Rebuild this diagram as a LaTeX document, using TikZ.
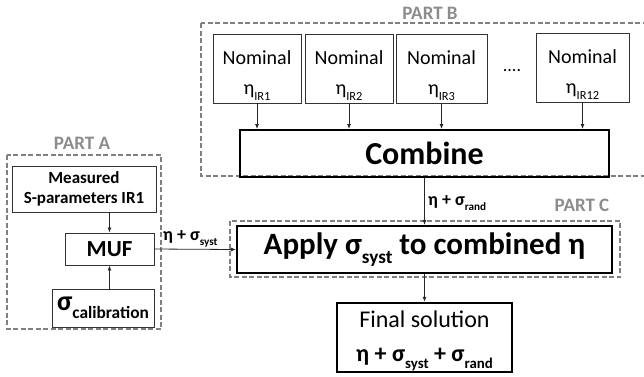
\documentclass[tikz,border=0pt]{standalone}
\usepackage{fontspec}
\setmainfont{Carlito}
\usetikzlibrary{arrows.meta}
\newcommand\fs[2]{\fontsize{#1}{#2}\selectfont}
\newcommand\lowsub[1]{\raisebox{-0.28em}{\fontsize{0.62em}{0.62em}\selectfont #1}}
% lower a stack of lines without changing the space it claims
\newcommand\dropstack[2]{\raisebox{-#1}[\height][\depth]{\begin{tabular}{@{}c@{}}#2\end{tabular}}}
\begin{document}
\begin{tikzpicture}[x=1pt,y=-1pt,
  thinbox/.style={draw=black!80,line width=0.9pt,inner sep=0pt,align=center},
  thickbox/.style={draw=black,line width=2pt,inner sep=0pt,align=center},
  partbox/.style={draw=black!50,line width=1.8pt,dash pattern=on 5pt off 2.5pt},
  partlabel/.style={text=black!45,font=\fs{19}{19}\bfseries},
  conn/.style={draw=black!85,line width=0.8pt,-{Latex[length=5pt,width=4pt]}},
  lbl/.style={font=\fs{18}{18}\bfseries,inner sep=0pt}]
\useasboundingbox (0,0) rectangle (644,376);

% dashed group frames
\draw[partbox] (201,23) rectangle (650,176);
\draw[partbox] (7,155) rectangle (161,329);
\draw[partbox] (230,221) rectangle (620,277);
\node[partlabel] (pb) at (430,13) {PART B};
\node[partlabel] (pa) at (82,143) {PART A};
\node[partlabel] (pc) at (582,205) {PART C};

% part B
\tikzset{nomtext/.style={font=\fs{20}{30}}}
\node[thinbox,nomtext,minimum width=88,minimum height=69] (n1) at (257,68.5)
  {\dropstack{5pt}{Nominal\\η\lowsub{IR1}}};
\node[thinbox,nomtext,minimum width=88,minimum height=69] (n2) at (349,68.5)
  {\dropstack{5pt}{Nominal\\η\lowsub{IR2}}};
\node[thinbox,nomtext,minimum width=91,minimum height=69] (n3) at (441.5,68.5)
  {\dropstack{5pt}{Nominal\\η\lowsub{IR3}}};
\node[thinbox,nomtext,minimum width=93,minimum height=69] (n4) at (582.5,67.5)
  {\dropstack{5pt}{Nominal\\η\lowsub{IR12}}};
\node[font=\fs{18}{18}] (dots) at (512,71) {....};
\node[thickbox,minimum width=369,minimum height=47,font=\fs{32}{32}\bfseries]
  (comb) at (424.5,153.5) {Combine};

% part C
\node[thickbox,minimum width=375,minimum height=47,font=\fs{31}{31}\bfseries]
  (apply) at (424.5,249.5) {Apply σ\lowsub{syst} to combined η};

% final
\node[draw=black,line width=2.5pt,inner sep=0pt,align=center,
  minimum width=175,minimum height=69,font=\fs{24}{34}] (final) at (424.5,337.5)
  {\dropstack{0pt}{Final solution\\\bfseries η + σ\lowsub{syst} + σ\lowsub{rand}}};

% part A
\node[thinbox,minimum width=144,minimum height=46,font=\fs{17}{20}\bfseries]
  (meas) at (84,189) {Measured\\S-parameters IR1};
\node[thinbox,minimum width=89,minimum height=32,font=\fs{23}{23}\bfseries]
  (muf) at (109.5,249) {MUF};
\node[thinbox,minimum width=102,minimum height=38,font=\fs{28}{28}\bfseries]
  (cal) at (103,308) {σ\lowsub{calibration}};

% connectors
\foreach \n in {n1,n2,n3,n4}
  \draw[conn] (\n.south) -- (\n.south |- comb.north);
\draw[conn] (meas.south -| muf.north) -- (muf.north);
\draw[conn] (cal.north -| muf.south) -- (muf.south);
\draw[conn] (muf.east) -- (apply.west);
\draw[conn] (comb.south) -- (apply.north);
\draw[conn] (apply.south) -- (final.north);

\node[lbl,anchor=base west] (l1) at (163,240) {η + σ\lowsub{syst}};
\node[lbl,anchor=base west] (l2) at (428,205) {η + σ\lowsub{rand}};
\end{tikzpicture}
\end{document}
